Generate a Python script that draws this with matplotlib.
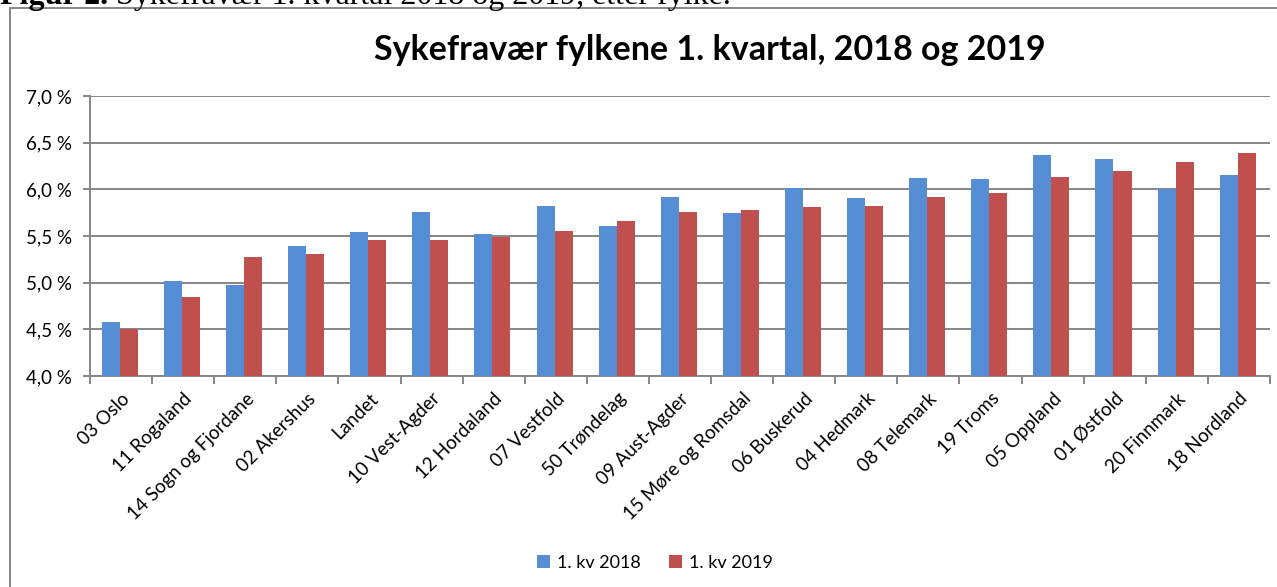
import numpy as np
import matplotlib.pyplot as plt
from matplotlib.lines import Line2D
from matplotlib.ticker import FuncFormatter

plt.rcParams['font.family'] = ['Lato', 'DejaVu Sans']

fylker = ['03 Oslo', '11 Rogaland', '14 Sogn og Fjordane', '02 Akershus', 'Landet',
          '10 Vest-Agder', '12 Hordaland', '07 Vestfold', '50 Trøndelag', '09 Aust-Agder',
          '15 Møre og Romsdal', '06 Buskerud', '04 Hedmark', '08 Telemark', '19 Troms',
          '05 Oppland', '01 Østfold', '20 Finnmark', '18 Nordland']
kv2018 = [4.58, 5.02, 4.98, 5.39, 5.54, 5.76, 5.52, 5.82, 5.61, 5.92,
          5.75, 6.01, 5.91, 6.12, 6.11, 6.37, 6.33, 6.00, 6.15]
kv2019 = [4.50, 4.85, 5.27, 5.31, 5.46, 5.46, 5.49, 5.55, 5.66, 5.76,
          5.78, 5.81, 5.82, 5.92, 5.96, 6.13, 6.20, 6.29, 6.39]
serier = ['1. kv 2018', '1. kv 2019']

W, H = 1277, 587
fig = plt.figure(figsize=(W / 100, H / 100), dpi=100)
ax = fig.add_axes([90 / W, 1 - 376 / H, 1180 / W, 280 / H])

grey = '#868686'
blue = '#558ED5'
red = '#C0504D'

x = np.arange(len(fylker))
bw = 0.29
ax.bar(x - bw / 2 - 0.02, kv2018, bw, color=blue, label=serier[0], zorder=3)
ax.bar(x + bw / 2 - 0.02, kv2019, bw, color=red, label=serier[1], zorder=3)

ax.set_xlim(-0.5, len(fylker) - 0.5)
ax.set_ylim(4.0, 7.0)
ax.set_yticks(np.arange(4.0, 7.01, 0.5))
ax.yaxis.set_major_formatter(FuncFormatter(lambda v, p: f'{v:.1f} %'.replace('.', ',')))
ax.grid(axis='y', color=grey, lw=1.4, zorder=0)

ax.set_xticks(x)
ax.set_xticklabels(fylker, rotation=45, ha='right', rotation_mode='anchor', fontsize=13.5)
ax.set_xticks(np.arange(-0.5, len(fylker), 1), minor=True)
ax.tick_params(axis='x', which='major', length=0, pad=10)
ax.tick_params(axis='x', which='minor', length=6, width=1.4, color=grey, direction='out')
ax.tick_params(axis='y', length=5, width=1.4, color=grey, labelsize=13.5, pad=8)

for s in ['top', 'right']:
    ax.spines[s].set_visible(False)
for s in ['left', 'bottom']:
    ax.spines[s].set_color(grey)
    ax.spines[s].set_linewidth(1.4)

fig.text(710 / W, 1 - 50 / H, 'Sykefravær fylkene 1. kvartal, 2018 og 2019',
         ha='center', va='center', fontsize=24.5, fontweight='bold')

fig.legend(loc='center', bbox_to_anchor=(655 / W, 1 - 563 / H), ncol=2, frameon=False,
           fontsize=13, handlelength=0.7, handleheight=0.7, handletextpad=0.4,
           columnspacing=1.6)

# ramme rundt figuren
fig.add_artist(Line2D([10 / W, 10 / W], [0, 1 - 8 / H], color=grey, lw=1.4))
fig.add_artist(Line2D([10 / W, 1], [1 - 8 / H, 1 - 8 / H], color=grey, lw=1.4))

# avkuttet figurtekst øverst
t1 = fig.text(0, 1 - 4 / H, 'Figur 2.', ha='left', va='baseline',
              fontsize=23, fontweight='bold', family='Liberation Serif')
fig.canvas.draw()
bb = t1.get_window_extent()
fig.text((bb.x1 + 8) / W, 1 - 4 / H, 'Sykefravær 1. kvartal 2018 og 2019, etter fylke.',
         ha='left', va='baseline', fontsize=23, family='Liberation Serif')

fig.savefig('out.png', dpi=100)
